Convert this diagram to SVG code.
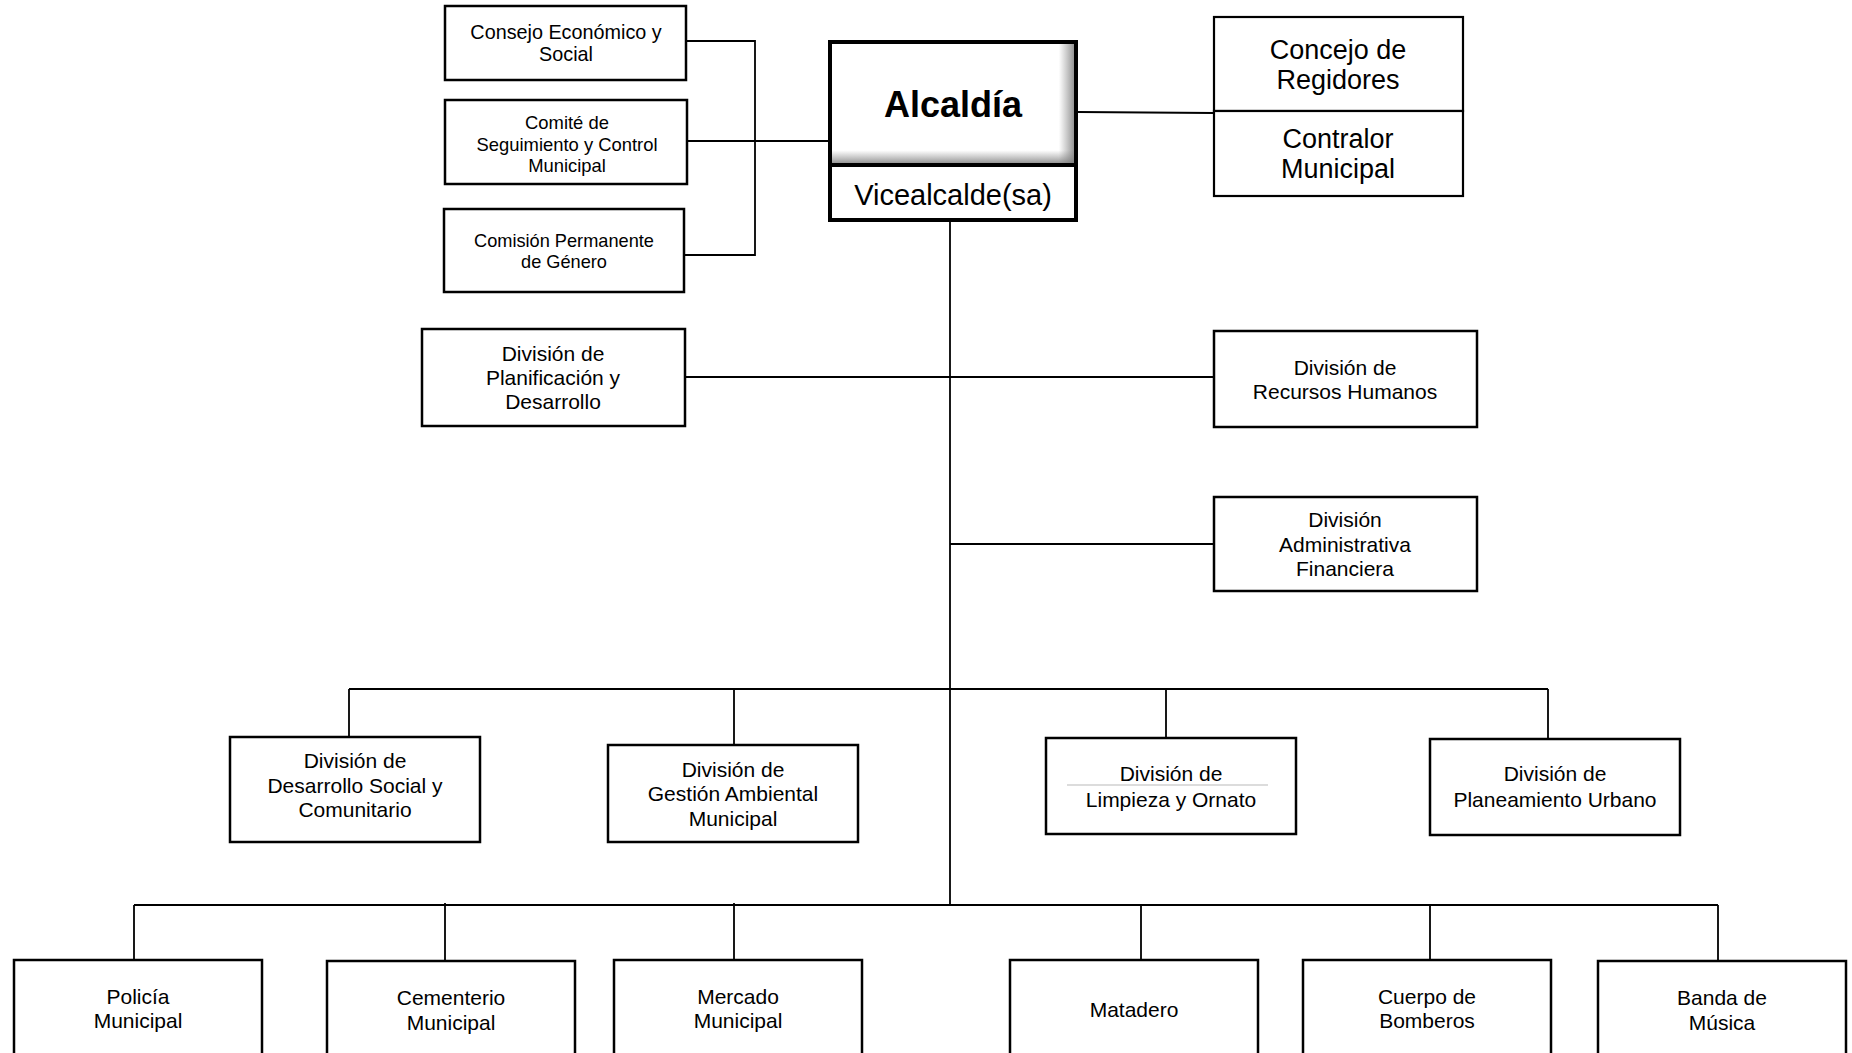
<svg xmlns="http://www.w3.org/2000/svg" width="1852" height="1053" viewBox="0 0 1852 1053">
<style>
.box{fill:#fff;stroke:#000;stroke-width:2.5}
.thin{fill:#fff;stroke:#000;stroke-width:2.2}
.ln{fill:none;stroke:#000;stroke-width:1.8}
text{font-family:"Liberation Sans",Arial,sans-serif;fill:#000;text-anchor:middle}
.t21{font-size:21px}
.t27{font-size:27px}
</style>
<defs>
<linearGradient id="gr" x1="0" y1="0" x2="1" y2="0">
<stop offset="0" stop-color="#888" stop-opacity="0"/>
<stop offset="0.93" stop-color="#888" stop-opacity="0"/>
<stop offset="1" stop-color="#777" stop-opacity="0.9"/>
</linearGradient>
<linearGradient id="gb" x1="0" y1="0" x2="0" y2="1">
<stop offset="0" stop-color="#888" stop-opacity="0"/>
<stop offset="0.88" stop-color="#888" stop-opacity="0"/>
<stop offset="1" stop-color="#777" stop-opacity="0.9"/>
</linearGradient>
</defs>
<rect width="1852" height="1053" fill="#fff"/>

<g id="connectors">
<path class="ln" d="M686,41 H755 V255 H684"/>
<path class="ln" d="M687,141 H828"/>
<path class="ln" d="M1078,112 L1214,113"/>
<path class="ln" d="M950,221 V905"/>
<path class="ln" d="M685,377 H1214"/>
<path class="ln" d="M950,544 H1213"/>
<path class="ln" d="M349,689 H1548 M349,689 V737 M734,689 V745 M1166,689 V738 M1548,689 V739"/>
<path class="ln" d="M134,905 H1718 M134,905 V960 M445,903 V961 M734,903 V960 M1141,905 V960 M1430,905 V960 M1718,905 V961"/>
</g>

<g id="consejo-economico">
<rect class="box" x="445" y="6" width="241" height="74"/>
<text x="566" y="39" style="font-size:19.8px">Consejo Económico y</text>
<text x="566" y="61" style="font-size:19.8px">Social</text>
</g>
<g id="comite-seguimiento">
<rect class="box" x="445" y="100" width="242" height="84"/>
<text x="567" y="129" style="font-size:18.4px">Comité de</text>
<text x="567" y="151" style="font-size:18.4px">Seguimiento y Control</text>
<text x="567" y="172" style="font-size:18.4px">Municipal</text>
</g>
<g id="comision-genero">
<rect class="box" x="444" y="209" width="240" height="83"/>
<text x="564" y="247" style="font-size:18.2px">Comisión Permanente</text>
<text x="564" y="268" style="font-size:18.2px">de Género</text>
</g>

<g id="alcaldia">
<rect x="830" y="42" width="246" height="123" fill="#fff"/>
<rect x="830" y="42" width="246" height="123" fill="url(#gr)"/>
<rect x="830" y="42" width="246" height="123" fill="url(#gb)"/>
<rect x="830" y="42" width="246" height="123" fill="none" stroke="#000" stroke-width="4"/>
<text x="953" y="117" style="font-size:36px;font-weight:bold">Alcaldía</text>
</g>
<g id="vicealcalde">
<rect x="830" y="165" width="246" height="55" fill="#fff" stroke="#000" stroke-width="4"/>
<text x="953" y="205" style="font-size:29px">Vicealcalde(sa)</text>
</g>

<g id="concejo-regidores">
<rect class="thin" x="1214" y="17" width="249" height="94"/>
<text class="t27" x="1338" y="59">Concejo de</text>
<text class="t27" x="1338" y="89">Regidores</text>
</g>
<g id="contralor">
<rect class="thin" x="1214" y="111" width="249" height="85"/>
<text class="t27" x="1338" y="148">Contralor</text>
<text class="t27" x="1338" y="178">Municipal</text>
</g>

<g id="planificacion">
<rect class="box" x="422" y="329" width="263" height="97"/>
<text class="t21" x="553" y="361">División de</text>
<text class="t21" x="553" y="385">Planificación y</text>
<text class="t21" x="553" y="409">Desarrollo</text>
</g>
<g id="recursos-humanos">
<rect class="box" x="1214" y="331" width="263" height="96"/>
<text class="t21" x="1345" y="375">División de</text>
<text class="t21" x="1345" y="399">Recursos Humanos</text>
</g>
<g id="administrativa">
<rect class="box" x="1214" y="497" width="263" height="94"/>
<text class="t21" x="1345" y="527">División</text>
<text class="t21" x="1345" y="552">Administrativa</text>
<text class="t21" x="1345" y="576">Financiera</text>
</g>

<g id="desarrollo-social">
<rect class="box" x="230" y="737" width="250" height="105"/>
<text class="t21" x="355" y="768">División de</text>
<text class="t21" x="355" y="793">Desarrollo Social y</text>
<text class="t21" x="355" y="817">Comunitario</text>
</g>
<g id="gestion-ambiental">
<rect class="box" x="608" y="745" width="250" height="97"/>
<text class="t21" x="733" y="777">División de</text>
<text class="t21" x="733" y="801">Gestión Ambiental</text>
<text class="t21" x="733" y="826">Municipal</text>
</g>
<g id="limpieza">
<rect class="box" x="1046" y="738" width="250" height="96"/>
<line x1="1067" y1="785" x2="1268" y2="785" stroke="#d0d0d0" stroke-width="1.5"/>
<text class="t21" x="1171" y="781">División de</text>
<text class="t21" x="1171" y="807">Limpieza y Ornato</text>
</g>
<g id="planeamiento">
<rect class="box" x="1430" y="739" width="250" height="96"/>
<text class="t21" x="1555" y="781">División de</text>
<text class="t21" x="1555" y="807">Planeamiento Urbano</text>
</g>

<g id="policia">
<rect class="box" x="14" y="960" width="248" height="120"/>
<text class="t21" x="138" y="1004">Policía</text>
<text class="t21" x="138" y="1028">Municipal</text>
</g>
<g id="cementerio">
<rect class="box" x="327" y="961" width="248" height="120"/>
<text class="t21" x="451" y="1005">Cementerio</text>
<text class="t21" x="451" y="1030">Municipal</text>
</g>
<g id="mercado">
<rect class="box" x="614" y="960" width="248" height="120"/>
<text class="t21" x="738" y="1004">Mercado</text>
<text class="t21" x="738" y="1028">Municipal</text>
</g>
<g id="matadero">
<rect class="box" x="1010" y="960" width="248" height="120"/>
<text class="t21" x="1134" y="1017">Matadero</text>
</g>
<g id="bomberos">
<rect class="box" x="1303" y="960" width="248" height="120"/>
<text class="t21" x="1427" y="1004">Cuerpo de</text>
<text class="t21" x="1427" y="1028">Bomberos</text>
</g>
<g id="banda">
<rect class="box" x="1598" y="961" width="248" height="120"/>
<text class="t21" x="1722" y="1005">Banda de</text>
<text class="t21" x="1722" y="1030">Música</text>
</g>
</svg>
